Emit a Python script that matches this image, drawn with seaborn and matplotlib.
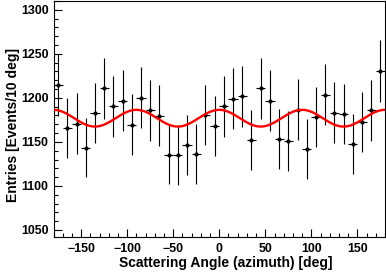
"""
Azimuthal scattering-angle distribution with a cos(4*phi) fit overlay.
Output: out.png (386x273)
"""

import numpy as np
import pandas as pd
import seaborn as sns
import matplotlib.pyplot as plt
from matplotlib.ticker import MultipleLocator

# bin centres of 10 deg bins from -180 to 180
BIN_CENTERS = list(range(-175, 180, 10))
ENTRIES = [
    1214.8, 1165.6, 1170.8, 1143.5, 1182.6, 1211.0, 1190.6, 1196.6, 1169.7,
    1200.0, 1186.0, 1179.9, 1135.6, 1134.9, 1146.2, 1136.4, 1180.7, 1168.2,
    1190.6, 1198.9, 1201.9, 1151.9, 1211.0, 1196.9, 1153.4, 1150.8, 1186.7,
    1142.0, 1178.0, 1203.8, 1183.3, 1181.5, 1147.4, 1172.4, 1186.0, 1230.3,
]
BIN_HALF_WIDTH = 5

# fit: p0 + p1 * cos(4 phi)
FIT_P0 = 1176.9
FIT_P1 = 9.5

XLABEL = "Scattering Angle (azimuth) [deg]"
YLABEL = "Entries [Events/10 deg]"

sns.set_theme(style="ticks")
plt.rcParams["font.family"] = ["Liberation Sans", "DejaVu Sans"]
plt.rcParams["font.weight"] = "bold"
plt.rcParams["text.color"] = "black"
plt.rcParams["axes.labelcolor"] = "black"
plt.rcParams["xtick.color"] = "black"
plt.rcParams["ytick.color"] = "black"

df = pd.DataFrame({"angle": BIN_CENTERS, "entries": ENTRIES})
df["err"] = np.sqrt(df["entries"])

phi = np.linspace(-180, 180, 721)
fit = pd.DataFrame({"angle": phi, "fit": FIT_P0 + FIT_P1 * np.cos(np.radians(4 * phi))})

W, H = 386, 273
fig = plt.figure(figsize=(W / 100, H / 100), dpi=100)
fig.patch.set_facecolor("white")
left, right, top, bottom = 53.5, 385.0, 1.0, 237.0
ax = fig.add_axes([left / W, 1 - bottom / H, (right - left) / W, (bottom - top) / H])

ax.errorbar(df["angle"], df["entries"], yerr=df["err"], xerr=BIN_HALF_WIDTH,
            fmt="none", ecolor="black", elinewidth=0.8, capsize=0, zorder=2)
sns.scatterplot(data=df, x="angle", y="entries", ax=ax, marker="o", s=9,
                color="black", edgecolor="black", linewidth=0, zorder=3)
sns.lineplot(data=fit, x="angle", y="fit", ax=ax, color="#ff0000", linewidth=1.7, zorder=4)

ax.set_xlim(-180, 180)
ax.set_ylim(1042, 1310)
ax.xaxis.set_major_locator(MultipleLocator(50))
ax.xaxis.set_minor_locator(MultipleLocator(10))
ax.yaxis.set_major_locator(MultipleLocator(50))
ax.yaxis.set_minor_locator(MultipleLocator(10))
ax.tick_params(which="both", direction="in", top=False, right=False, width=0.8,
               colors="black", labelcolor="black")
ax.tick_params(which="major", length=5.8)
ax.tick_params(which="minor", length=2.9)
ax.tick_params(axis="x", which="major", pad=4.5, labelsize=8.9)
ax.tick_params(axis="y", which="major", pad=3.6, labelsize=8.9)
for lab in ax.get_xticklabels() + ax.get_yticklabels():
    lab.set_fontweight("bold")
for side in ["left", "right", "top", "bottom"]:
    ax.spines[side].set_visible(True)
    ax.spines[side].set_color("black")
    ax.spines[side].set_linewidth(0.8)

ax.set_xlabel(XLABEL, fontsize=10, fontweight="bold", color="black")
ax.set_ylabel(YLABEL, fontsize=10, fontweight="bold", color="black")
ax.xaxis.set_label_coords(0.519, (bottom - 263) / (bottom - top))
ax.xaxis.label.set_va("center")
ax.yaxis.set_label_coords((13 - left) / (right - left), (bottom - 125) / (bottom - top))
ax.yaxis.label.set_va("center")
if ax.get_legend() is not None:
    ax.get_legend().remove()

fig.savefig("out.png", dpi=100, facecolor="white")
plt.close(fig)
